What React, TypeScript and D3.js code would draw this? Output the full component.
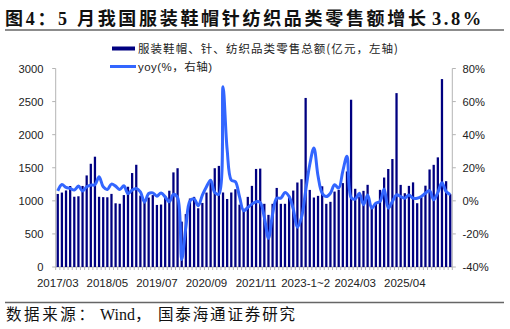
import React from 'react';
import * as d3 from 'd3';

// 服装鞋帽、针、纺织品类零售总额（亿元）
const sales = [
  1104, 1125, 1157, 1224, 1062, 1069, 1225, 1384, 1560, 1667,
  1061, 1056, 1054, 1105, 963, 956, 1087, 1213, 1420, 1545,
  1079, 1027, 1050, 1087, 938, 944, 1075, 1153, 1430, 1493,
  686, 800, 1035, 1060, 888, 968, 1125, 1316, 1493, 1528,
  1126, 1028, 1126, 1175, 942, 880, 1060, 1226, 1482, 1487,
  955, 788, 955, 1195, 955, 955, 1075, 1155, 1277, 1327,
  2555, 1165, 1050, 1075, 1220, 955, 985, 1140, 1166, 1268,
  1444, 2528, 1182, 1065, 1151, 1242, 905, 962, 1166, 1352,
  1481, 1632, 2628, 1241, 1115, 1226, 1279, 964, 1052, 1229,
  1474, 1544, 1657, 2840, 1297, 1100,
];

// yoy (%)
const yoy = [
  6.0, 9.9, 8.1, 7.5, 6.5, 8.9, 6.0, 8.5, 9.5, 9.7,
  14.5, 8.5, 6.9, 10.1, 8.9, 6.9, 9.1, 4.4, 6.5, 7.5,
  5.4, -0.8, 4.4, 4.8, 2.8, 4.8, 2.4, -0.6, 4.0, 2.0,
  -35.5, -16, 0, 1.2, -3, 3.4, 8.5, 12.5, 5, 4,
  69, 31, 12.5, 11.5, 2.4, -6, -4, -2, -0.5, -1,
  -10, -22.6, -8, 1.6, 1.6, 5, 2.6, -5, -16, -10,
  6, 22, 32, 15, 4.6, 2.6, 4.6, 9.7, 7.7, 18,
  27, 2, 1, 4.6, -2.4, 3.6, -4.4, -1.4, -0.4, 7.1,
  -4.4, -0.4, 3.6, 2.6, 1.6, 3.6, 1.6, 1.6, 2.6, 4.6,
  6.2, 0.6, 5, 11, 5.6, 3.8,
];

const tickLabels = ['2017/03', '2018/05', '2019/07', '2020/09', '2021/11', '2023-1~2', '2024/03', '2025/04'];
const tickEvery = 12;
const leftTicks = [0, 500, 1000, 1500, 2000, 2500, 3000];
const rightTicks = [-40, -20, 0, 20, 40, 60, 80];

const latin = '"Liberation Sans", Arial, sans-serif';
const cjk = '"Noto Sans CJK SC", sans-serif';
const serif = '"Liberation Serif", "Noto Sans CJK SC", serif';

function App() {
  const W = 510;
  const H = 329;
  const left = 55.7, right = 452.3, top = 68.5, bottom = 267;

  const x = d3.scaleBand<number>()
    .domain(d3.range(sales.length))
    .range([left, right])
    .paddingInner(0.45)
    .paddingOuter(0.225);
  const yL = d3.scaleLinear().domain([0, 3000]).range([bottom, top]);
  const yR = d3.scaleLinear().domain([-40, 80]).range([bottom, top]);
  const bw = x.bandwidth();
  const step = x.step();

  const line = d3.line<number>()
    .x((d, i) => (x(i) as number) + bw / 2)
    .y((d) => yR(d))
    .curve(d3.curveCatmullRom);

  const axisColor = '#b4b4b4';

  return (
    <svg width={W} height={H} style={{ position: 'absolute', left: 0, top: 0, background: '#fff' }}>
      {/* title */}
      <text x={5} y={24.5} fontSize={18} fontWeight="bold" fill="#111"
        fontFamily={serif} textLength={421} lengthAdjust="spacing">
        图4：5 月我国服装鞋帽针纺织品类零售额增长
      </text>
      <text x={432} y={24.5} fontSize={18.5} fontWeight="bold" fill="#111"
        fontFamily={serif} letterSpacing={2.5}>3.8%</text>
      <line x1={5} x2={504} y1={30} y2={30} stroke="#666" strokeWidth={1.5} />

      {/* legend */}
      <rect x={112} y={46.5} width={23} height={4} fill="#000080" />
      <text x={138} y={52.5} fontSize={11.5} fill="#222" fontFamily={cjk}
        textLength={260} lengthAdjust="spacing">服装鞋帽、针、纺织品类零售总额(亿元，左轴)</text>
      <line x1={110} x2={136} y1={66.5} y2={66.5} stroke="#3366ff" strokeWidth={3} />
      <text x={138} y={70.8} fontSize={11.5} fill="#222" fontFamily={latin + ', ' + cjk}
        textLength={74} lengthAdjust="spacing">yoy(%，右轴)</text>

      {/* axes */}
      <line x1={left} x2={left} y1={top} y2={bottom} stroke={axisColor} />
      <line x1={right} x2={right} y1={top} y2={bottom} stroke={axisColor} />
      <line x1={left} x2={right} y1={bottom} y2={bottom} stroke={axisColor} />
      {leftTicks.map((t) => (
        <g key={'l' + t}>
          <line x1={left - 3.5} x2={left} y1={yL(t)} y2={yL(t)} stroke={axisColor} />
          <text x={43.5} y={yL(t) + 4} textAnchor="end" fontSize={11.2} fill="#222" fontFamily={latin}>{t}</text>
        </g>
      ))}
      {rightTicks.map((t) => (
        <g key={'r' + t}>
          <line x1={right} x2={right + 3.5} y1={yR(t)} y2={yR(t)} stroke={axisColor} />
          <text x={462.5} y={yR(t) + 4} fontSize={11.2} fill="#222" fontFamily={latin}>{t + '%'}</text>
        </g>
      ))}
      {d3.range(sales.length + 1).map((k) => (
        <line key={'c' + k} x1={left + k * step} x2={left + k * step} y1={bottom} y2={bottom + 3} stroke={axisColor} />
      ))}
      {tickLabels.map((lab, k) => (
        <text key={lab} x={(x(k * tickEvery) as number) + bw / 2} y={287} textAnchor="middle"
          fontSize={11.5} fill="#222" fontFamily={latin}>{lab}</text>
      ))}

      {/* bars */}
      {sales.map((v, i) => (
        <rect key={i} x={x(i)} y={yL(v)} width={bw} height={bottom - yL(v)} fill="#000080" />
      ))}

      {/* yoy line */}
      <path d={line(yoy) || ''} fill="none" stroke="#3366ff" strokeWidth={3} strokeLinejoin="round" />

      {/* footer */}
      <line x1={5} x2={504} y1={302.5} y2={302.5} stroke="#666" strokeWidth={1.5} />
      <text x={6} y={320} fontSize={15.5} fill="#111" fontFamily={serif}
        textLength={88} lengthAdjust="spacing">数据来源：</text>
      <text x={100} y={320} fontSize={16} fill="#111" fontFamily={serif}>Wind，</text>
      <text x={158} y={320} fontSize={15.5} fill="#111" fontFamily={serif}
        textLength={137} lengthAdjust="spacing">国泰海通证券研究</text>
    </svg>
  );
}

export default App;
